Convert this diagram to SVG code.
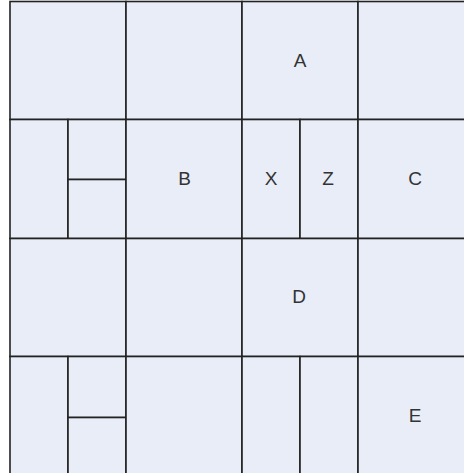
<svg xmlns="http://www.w3.org/2000/svg" width="464" height="473" viewBox="0 0 464 473">
<style>
.c{fill:#e8edf8;stroke:#222;stroke-width:1.6}
.t{font-family:"Liberation Sans",Arial,sans-serif;font-size:19px;fill:#333;text-anchor:middle;dominant-baseline:central}
</style>
<rect width="464" height="473" fill="#fff"/>
<g id="r1c1"><rect class="c" x="10" y="1.5" width="116" height="118"/></g>
<g id="r1c2"><rect class="c" x="126" y="1.5" width="116" height="118"/></g>
<g id="A"><rect class="c" x="242" y="1.5" width="116" height="118"/><text class="t" x="300" y="60">A</text></g>
<g id="r1c4"><rect class="c" x="358" y="1.5" width="116" height="118"/></g>
<g id="r2c1a"><rect class="c" x="10" y="119.5" width="58" height="119"/></g>
<g id="r2c1b"><rect class="c" x="68" y="119.5" width="58" height="60"/></g>
<g id="r2c1c"><rect class="c" x="68" y="179.5" width="58" height="59"/></g>
<g id="B"><rect class="c" x="126" y="119.5" width="116" height="119"/><text class="t" x="184.5" y="178.5">B</text></g>
<g id="X"><rect class="c" x="242" y="119.5" width="58" height="119"/><text class="t" x="271" y="178.5">X</text></g>
<g id="Z"><rect class="c" x="300" y="119.5" width="58" height="119"/><text class="t" x="328" y="178.5">Z</text></g>
<g id="C"><rect class="c" x="358" y="119.5" width="116" height="119"/><text class="t" x="415" y="178.5">C</text></g>
<g id="r3c1"><rect class="c" x="10" y="238.5" width="116" height="118"/></g>
<g id="r3c2"><rect class="c" x="126" y="238.5" width="116" height="118"/></g>
<g id="D"><rect class="c" x="242" y="238.5" width="116" height="118"/><text class="t" x="299" y="296.5">D</text></g>
<g id="r3c4"><rect class="c" x="358" y="238.5" width="116" height="118"/></g>
<g id="r4c1a"><rect class="c" x="10" y="356.5" width="58" height="120"/></g>
<g id="r4c1b"><rect class="c" x="68" y="356.5" width="58" height="61"/></g>
<g id="r4c1c"><rect class="c" x="68" y="417.5" width="58" height="60"/></g>
<g id="r4c2"><rect class="c" x="126" y="356.5" width="116" height="120"/></g>
<g id="r4c3a"><rect class="c" x="242" y="356.5" width="58" height="120"/></g>
<g id="r4c3b"><rect class="c" x="300" y="356.5" width="58" height="120"/></g>
<g id="E"><rect class="c" x="358" y="356.5" width="116" height="120"/><text class="t" x="415" y="415">E</text></g>
<g id="connectors"></g>
</svg>
